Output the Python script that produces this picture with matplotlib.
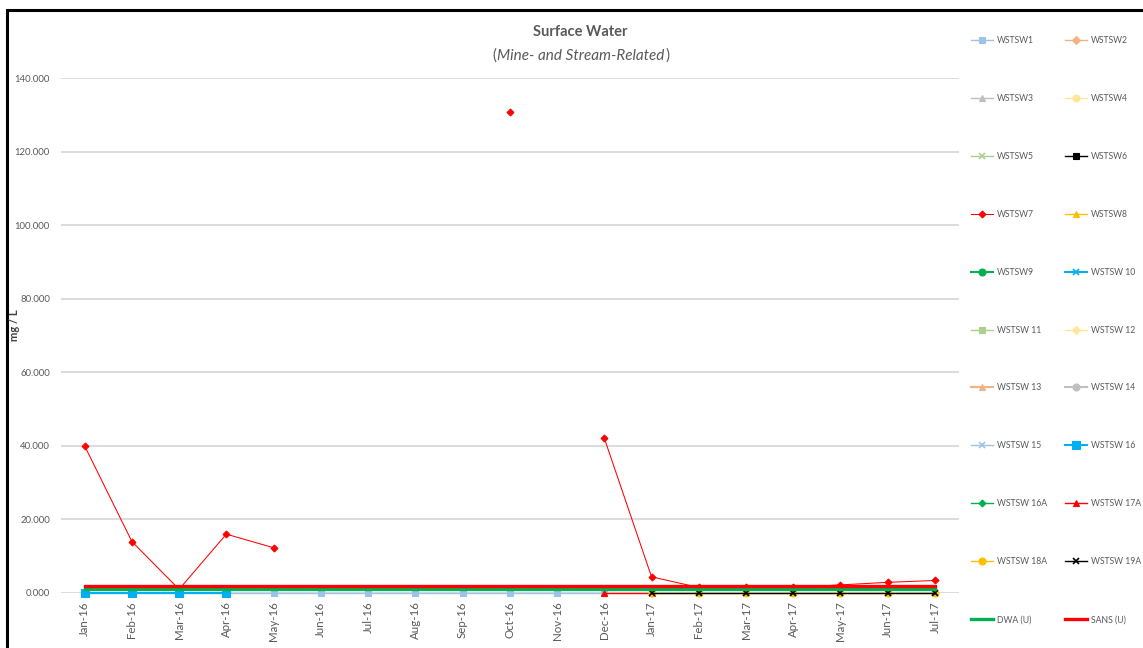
import numpy as np
import matplotlib
matplotlib.use("Agg")
import matplotlib.pyplot as plt
from matplotlib.patches import Rectangle

plt.rcParams['font.family'] = ['Lato', 'DejaVu Sans']

months = ["Jan-16", "Feb-16", "Mar-16", "Apr-16", "May-16", "Jun-16", "Jul-16",
          "Aug-16", "Sep-16", "Oct-16", "Nov-16", "Dec-16", "Jan-17", "Feb-17",
          "Mar-17", "Apr-17", "May-17", "Jun-17", "Jul-17"]
nan = np.nan

wstsw1 = [0, 0, 0, 0, 0, 0, 0, 0, 0, 0, 0, 0, nan, nan, nan, nan, nan, nan, nan]
wstsw7 = [40.0, 14.0, 1.0, 16.0, 12.3, nan, nan, nan, nan, 130.8, nan, 42.1,
          4.4, 1.5, 1.5, 1.5, 2.2, 2.9, 3.4]
wstsw16 = [0, 0, 0, 0, nan, nan, nan, nan, nan, nan, nan, nan, nan, nan, nan, nan, nan, nan, nan]
wstsw17a = [nan] * 11 + [0, 0] + [nan] * 6
wstsw18a = [nan] * 12 + [0, 0, 0, 0, 0, 0, 0]
wstsw19a = [nan] * 12 + [0, 0, 0, 0, 0, 0, 0]
dwa_limit = [1.0] * 19
sans_limit = [2.0] * 19
empty = [nan] * 19

# (label, values, colour, marker, marker size, line width)
series = [
    ("WSTSW1", wstsw1, "#9DC3E6", "s", 5, 1.0),
    ("WSTSW2", empty, "#F4B183", "D", 4, 1.0),
    ("WSTSW3", empty, "#BFBFBF", "^", 5, 1.0),
    ("WSTSW4", empty, "#FFE699", "o", 5, 1.0),
    ("WSTSW5", empty, "#A9D18E", "x", 5, 1.0),
    ("WSTSW6", empty, "#000000", "s", 5, 1.0),
    ("WSTSW7", wstsw7, "#FF0000", "D", 3.5, 0.75),
    ("WSTSW8", empty, "#FFC000", "^", 5, 1.0),
    ("WSTSW9", empty, "#00B050", "o", 5, 1.5),
    ("WSTSW 10", empty, "#00B0F0", "x", 5, 1.5),
    ("WSTSW 11", empty, "#A9D18E", "s", 5, 1.0),
    ("WSTSW 12", empty, "#FFE699", "D", 4, 1.0),
    ("WSTSW 13", empty, "#F4B183", "^", 5, 1.5),
    ("WSTSW 14", empty, "#BFBFBF", "o", 5, 1.5),
    ("WSTSW 15", empty, "#9DC3E6", "x", 5, 1.0),
    ("WSTSW 16", wstsw16, "#00B0F0", "s", 5.5, 1.5),
    ("WSTSW 16A", empty, "#00B050", "D", 3.5, 1.0),
    ("WSTSW 17A", wstsw17a, "#FF0000", "^", 5, 1.0),
    ("WSTSW 18A", wstsw18a, "#FFC000", "o", 5, 1.0),
    ("WSTSW 19A", wstsw19a, "#000000", "x", 5, 1.0),
    ("DWA (U)", dwa_limit, "#00B050", None, 0, 2.4),
    ("SANS (U)", sans_limit, "#FF0000", None, 0, 2.4),
]

W, H = 1143, 648
fig = plt.figure(figsize=(W / 100, H / 100), dpi=100)
ax = fig.add_axes([61 / W, 1 - 593 / H, (958.6 - 61) / W, (593 - 78) / H])

x = np.arange(len(months))
handles = {}
for label, vals, col, mk, ms, lw in series:
    kw = dict(color=col, lw=lw, clip_on=False, label=label)
    if mk is not None:
        kw.update(marker=mk, markersize=ms, markerfacecolor=col,
                  markeredgecolor=col, markeredgewidth=1.2 if mk == "x" else 0.8)
    ln, = ax.plot(x, vals, **kw)
    handles[label] = ln

ax.set_xlim(-0.5, len(months) - 0.5)
ax.set_ylim(0, 140)
yt = np.arange(0, 141, 20)
ax.set_yticks(yt)
ax.set_yticklabels([f"{v:.3f}" for v in yt])
ax.set_xticks(x)
ax.set_xticklabels(months, rotation=90)
ax.tick_params(axis="both", length=0, labelcolor="#595959")
ax.tick_params(axis="y", pad=8, labelsize=6.9)
ax.tick_params(axis="x", pad=6, labelsize=8.3)
ax.grid(axis="y", color="#D9D9D9", lw=1.3)
ax.set_axisbelow(True)
for s in ax.spines.values():
    s.set_visible(False)

fig.text(15 / W, 1 - 325 / H, "mg / L", rotation=90, ha="center", va="center",
         fontsize=8, fontweight="bold", color="#404040")

fig.text(580 / W, 1 - 32 / H, "Surface Water", ha="center", va="center",
         fontsize=10.5, fontweight="bold", color="#595959")
sub = fig.text(581 / W, 1 - 56 / H, "Mine- and Stream-Related", ha="center",
               va="center", fontsize=11, style="italic", color="#595959")
renderer = fig.canvas.get_renderer()
bb = sub.get_window_extent(renderer)
fig.text((bb.x0 - 1) / W, 1 - 56 / H, "(", ha="right", va="center",
         fontsize=11, color="#595959")
fig.text((bb.x1 + 1) / W, 1 - 56 / H, ")", ha="left", va="center",
         fontsize=11, color="#595959")

# legend: two columns, filled row by row
labels = [s[0] for s in series]
for col_labels, x0 in ((labels[0::2], 971), (labels[1::2], 1065)):
    fig.legend([handles[l] for l in col_labels], col_labels,
               loc="upper left", bbox_to_anchor=(x0 / W, 1 - 36 / H),
               ncol=1, frameon=False, fontsize=6.2, labelcolor="#595959",
               handlelength=2.55, handletextpad=0.45, labelspacing=5.68,
               borderaxespad=0, borderpad=0)

fig.patches.append(Rectangle((7 / W, -0.1), 1.2, 1 - 10 / H + 0.1,
                             transform=fig.transFigure, fill=False,
                             edgecolor="black", lw=2.2))

fig.savefig("out.png", dpi=100)
